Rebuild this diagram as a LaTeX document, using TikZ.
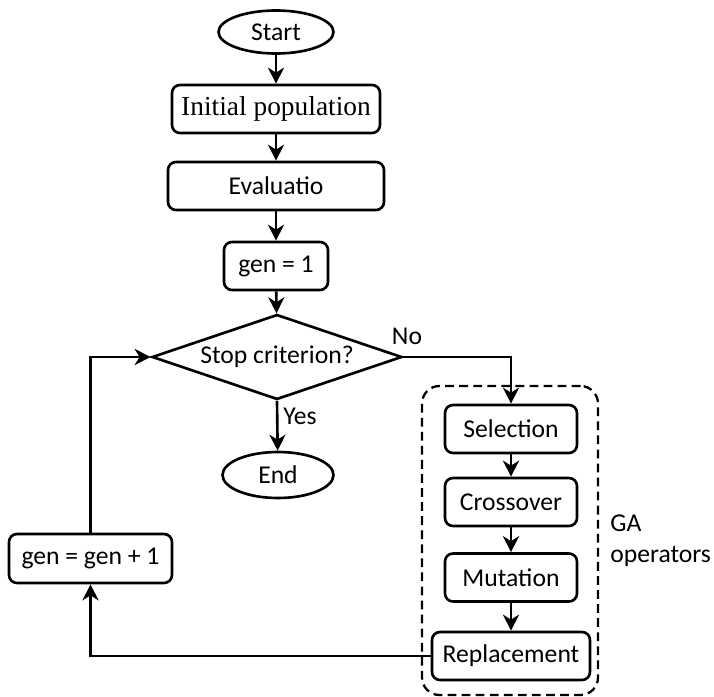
\documentclass[tikz,border=0pt]{standalone}
\usepackage{fontspec}
\setmainfont{Carlito}
\newfontfamily\serifbox{Liberation Serif}
\usetikzlibrary{shapes.geometric,arrows.meta}
\begin{document}
\begin{tikzpicture}[
        font=\fontsize{14.6}{17.5}\selectfont,
        step box/.style={draw, line width=1.5pt, rounded corners=0.16cm, minimum height=0.96cm, align=center, inner sep=2pt},
        term/.style={draw, line width=1.5pt, ellipse, minimum width=2.3cm, minimum height=0.86cm, inner sep=0pt},
        decision/.style={draw, line width=1.5pt, diamond, minimum width=5.0cm, minimum height=1.7cm, shape aspect=2.9, inner sep=0pt},
        groupbox/.style={draw, line width=1.3pt, dash pattern=on 5pt off 3pt, rounded corners=0.35cm},
        flow/.style={-{Stealth[length=0.32cm, width=0.32cm, inset=0.1cm]}, line width=1.5pt}
      ]
      \useasboundingbox (0,0) rectangle (14.28,-13.94);

      \node[term] (start) at (5.52,-0.64) {Start};
      \node[step box, minimum width=4.16cm, font=\serifbox\fontsize{15.6}{18}\selectfont] (init) at (5.52,-2.18) {Initial population};
      \node[step box, minimum width=4.32cm] (eval) at (5.52,-3.72) {Evaluatio};
      \node[step box, minimum width=2.08cm] (gen1) at (5.52,-5.32) {gen = 1};
      \node[decision] (stop) at (5.54,-7.14) {Stop criterion?};
      \node[term, minimum width=2.22cm, minimum height=0.92cm] (end) at (5.56,-9.5) {End};

      \node[groupbox, minimum width=3.52cm, minimum height=6.18cm] (ga) at (10.2,-10.81) {};
      \node[step box, minimum width=2.64cm] (sel) at (10.22,-8.58) {Selection};
      \node[step box, minimum width=2.64cm] (cross) at (10.22,-10.04) {Crossover};
      \node[step box, minimum width=2.64cm] (mut) at (10.22,-11.55) {Mutation};
      \node[step box, minimum width=3.16cm] (repl) at (10.22,-13.12) {Replacement};
      \node[align=left, anchor=west, inner sep=0pt] (galabel) at (12.2,-10.82) {GA\\operators};

      \node[step box, minimum width=3.26cm, minimum height=0.98cm] (incr) at (1.81,-11.17) {gen = gen + 1};

      \draw[flow] (start) -- (init);
      \draw[flow] (init) -- (eval);
      \draw[flow] (eval) -- (gen1);
      \draw[flow] (gen1) -- (stop);
      \draw[flow] (stop.east) -| (sel.north);
      \node (no) at (8.14,-6.72) {No};
      \draw[flow] (stop.south) -- (end);
      \node (yes) at (6.0,-8.32) {Yes};
      \draw[flow] (sel) -- (cross);
      \draw[flow] (cross) -- (mut);
      \draw[flow] (mut) -- (repl);
      \draw[flow] (repl.west) -| (incr.south);
      \draw[flow] (incr.north) |- (stop.west);
    \end{tikzpicture}
\end{document}
